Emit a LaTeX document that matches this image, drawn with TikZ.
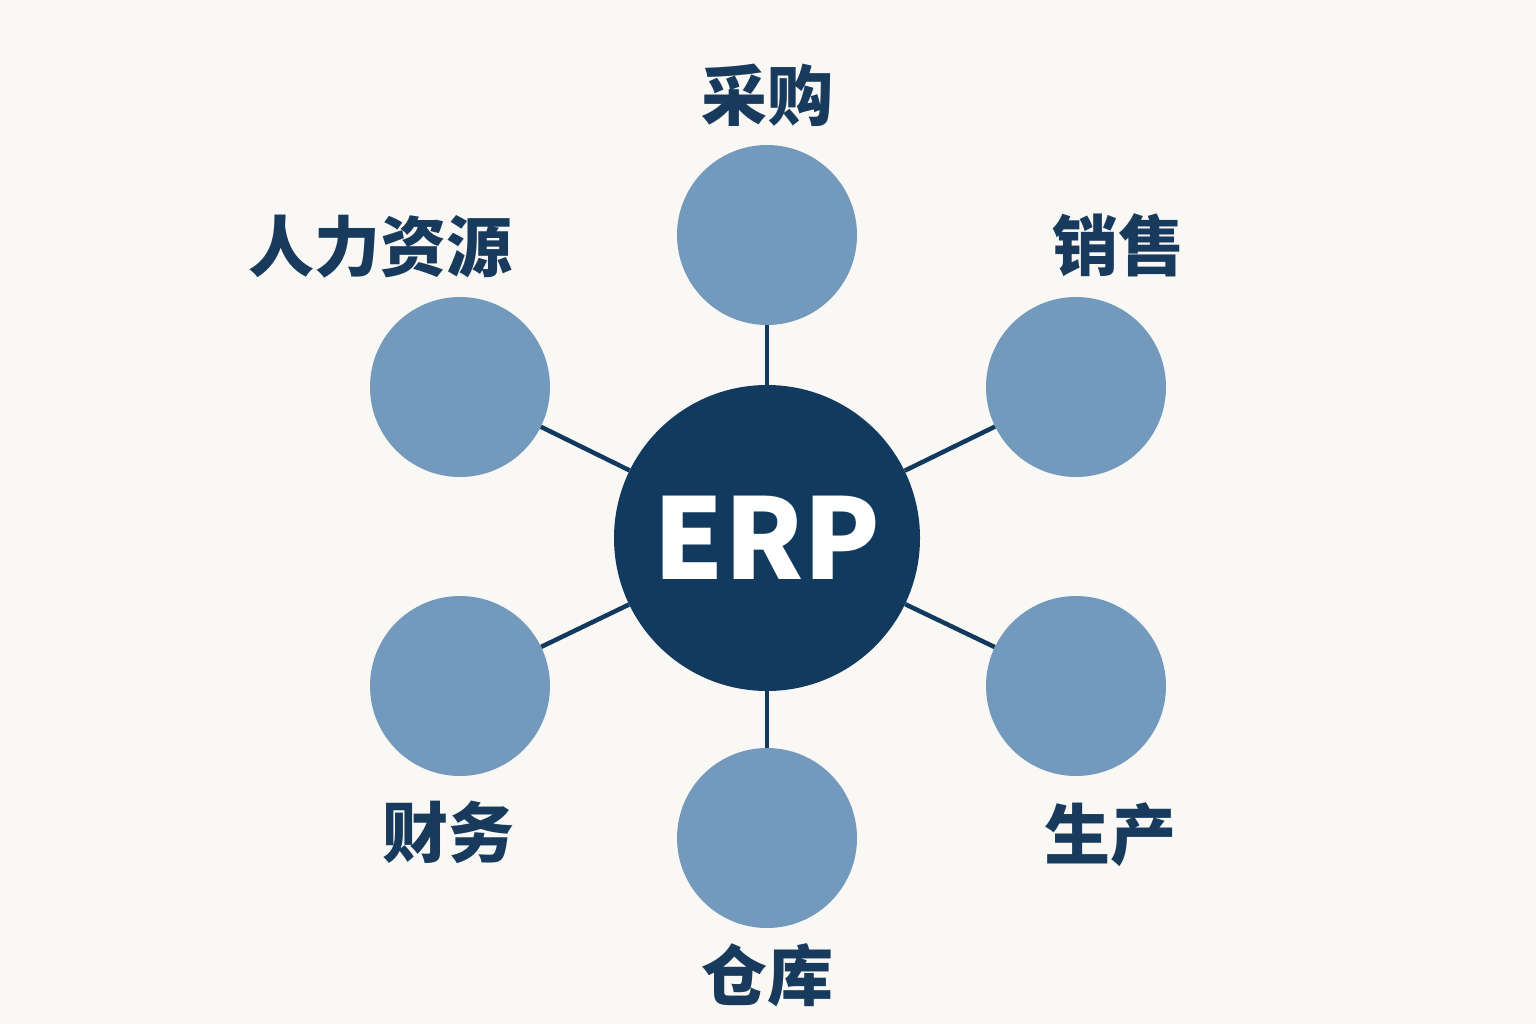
\documentclass[tikz,border=0pt]{standalone}
\usepackage{fontspec}
\newfontfamily\cjk{Noto Sans CJK SC}
\definecolor{navy}{HTML}{113A5E}
\definecolor{module}{HTML}{7399BC}
\definecolor{labeltext}{HTML}{183A5C}
\definecolor{paper}{HTML}{F9F8F5}
\tikzset{
  hub/.style={circle,fill=navy,minimum size=306pt,inner sep=0pt,text=white,font=\cjk\bfseries\fontsize{112}{112}\selectfont},
  modcircle/.style={circle,fill=module,minimum size=180pt,inner sep=0pt},
  modlabel/.style={font=\cjk\bfseries\fontsize{66}{66}\selectfont,text=labeltext,inner sep=0pt},
  link/.style={draw=navy,line width=4.5pt}
}
\begin{document}
\begin{tikzpicture}[x=1pt,y=-1pt]
\fill[paper] (0,0) rectangle (1536,1024);
\path[use as bounding box] (0,0) rectangle (1536,1024);
% hub and modules
\node[hub] (erp) at (767,538) {ERP};
\node[modcircle] (purchase) at (767,235) {};
\node[modcircle] (sales) at (1076,387) {};
\node[modcircle] (production) at (1076,686) {};
\node[modcircle] (warehouse) at (767,838) {};
\node[modcircle] (finance) at (460,686) {};
\node[modcircle] (hr) at (460,387) {};
% labels
\node[modlabel] (purchaselbl) at (767,95) {采购};
\node[modlabel] (saleslbl) at (1118,245) {销售};
\node[modlabel] (productionlbl) at (1110,835) {生产};
\node[modlabel] (warehouselbl) at (767,975) {仓库};
\node[modlabel] (financelbl) at (448,832) {财务};
\node[modlabel] (hrlbl) at (380,247) {人力资源};
% connectors
\draw[link] (erp)--(purchase); \draw[link] (erp)--(sales);
\draw[link] (erp)--(production); \draw[link] (erp)--(warehouse);
\draw[link] (erp)--(finance); \draw[link] (erp)--(hr);
\end{tikzpicture}
\end{document}
